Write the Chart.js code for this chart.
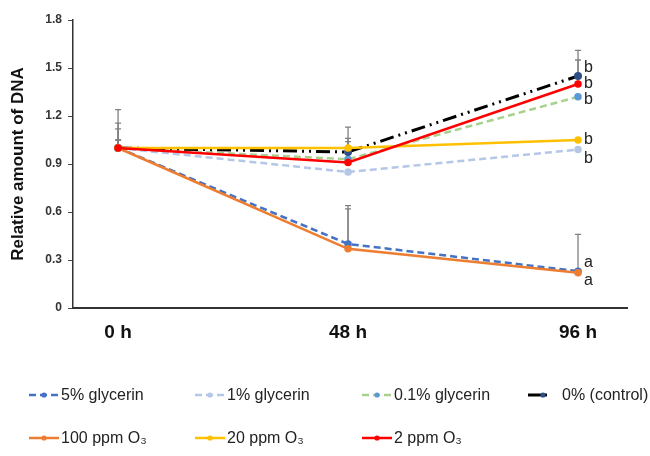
<!DOCTYPE html>
<html lang="en">
<head>
<meta charset="UTF-8">
<title>Relative amount of DNA</title>
<script src="https://cdn.jsdelivr.net/npm/chart.js"></script>
<style>
    body {
        margin: 0;
        background: #ffffff;
    }

    .chart-box {
        width: 650px;
        height: 456px;
    }
</style>
</head>
<body>
<div class="chart-box"><canvas id="dnaChart"></canvas></div>

<script>
    // tick labels / categories
    const timeLabels = ['0 h', '48 h', '96 h'];
    const yTicks = [0, 0.3, 0.6, 0.9, 1.2, 1.5, 1.8];

    // series values (relative amount of DNA)
    const glycerin5 = [1.0, 0.40, 0.23];
    const glycerin1 = [1.0, 0.85, 0.99];
    const glycerin01 = [1.0, 0.93, 1.32];
    const control0 = [1.0, 0.975, 1.45];
    const ozone100 = [1.0, 0.37, 0.22];
    const ozone20 = [1.0, 1.0, 1.05];
    const ozone2 = [1.0, 0.91, 1.40];

    // upper error bars
    const errGlycerin5 = [0.05, 0.24, 0.23];
    const errGlycerin1 = [0, 0, 0];
    const errGlycerin01 = [0.12, 0, 0];
    const errControl0 = [0.24, 0.155, 0.16];
    const errOzone100 = [0, 0.25, 0];
    const errOzone20 = [0.05, 0.06, 0];
    const errOzone2 = [0.155, 0.13, 0.15];

    // significance letters at 96 h
    const sigLetters = ['a', 'b', 'b', 'b', 'a', 'b', 'b'];

    const toPoints = arr => arr.map((v, i) => ({ x: i, y: v }));

    function makeSet(label, values, errors, letter, color, pointColor, dash, width, order) {
        return {
            label: label,
            data: toPoints(values),
            errors: errors,
            letter: letter,
            borderColor: color,
            backgroundColor: pointColor,
            pointBackgroundColor: pointColor,
            pointBorderColor: pointColor,
            pointRadius: 2.5,
            pointHoverRadius: 2.5,
            borderWidth: width,
            borderDash: dash,
            fill: false,
            tension: 0,
            order: order
        };
    }

    const datasets = [
        makeSet('5% glycerin', glycerin5, errGlycerin5, sigLetters[0], '#4472C4', '#4472C4', [7, 4], 2.5, 7),
        makeSet('1% glycerin', glycerin1, errGlycerin1, sigLetters[1], '#B4C7E7', '#B4C7E7', [7, 4], 2.5, 6),
        makeSet('0.1% glycerin', glycerin01, errGlycerin01, sigLetters[2], '#A9D18E', '#5B9BD5', [7, 4], 2.5, 5),
        makeSet('0% (control)', control0, errControl0, sigLetters[3], '#000000', '#2F4E86', [14, 5, 2, 5, 2, 5], 3, 4),
        makeSet('100 ppm O\u2083', ozone100, errOzone100, sigLetters[4], '#ED7D31', '#ED7D31', [], 2.5, 3),
        makeSet('20 ppm O\u2083', ozone20, errOzone20, sigLetters[5], '#FFC000', '#FFC000', [], 2.5, 2),
        makeSet('2 ppm O\u2083', ozone2, errOzone2, sigLetters[6], '#FF0000', '#FF0000', [], 2.5, 1)
    ];

    // error bars drawn under the lines
    const errorBars = {
        id: 'errorBars',
        beforeDatasetsDraw(chart) {
            const ctx = chart.ctx;
            const xs = chart.scales.x, ys = chart.scales.y;
            ctx.save();
            ctx.strokeStyle = '#808080';
            ctx.lineWidth = 1.3;
            chart.data.datasets.forEach(ds => {
                ds.data.forEach((p, i) => {
                    const e = ds.errors[i];
                    if (!e) return;
                    const px = xs.getPixelForValue(p.x);
                    const y0 = ys.getPixelForValue(p.y);
                    const y1 = ys.getPixelForValue(p.y + e);
                    ctx.beginPath();
                    ctx.moveTo(px, y0);
                    ctx.lineTo(px, y1);
                    ctx.moveTo(px - 3, y1);
                    ctx.lineTo(px + 3, y1);
                    ctx.stroke();
                });
            });
            ctx.restore();
        }
    };

    // letters next to the last points
    const letterShift = [-9, 9, 3, -8, 8, 0, 0];
    const sigLabels = {
        id: 'sigLabels',
        afterDatasetsDraw(chart) {
            const ctx = chart.ctx;
            const xs = chart.scales.x, ys = chart.scales.y;
            ctx.save();
            ctx.fillStyle = '#222';
            ctx.font = '16px "Liberation Sans", Arial, sans-serif';
            ctx.textBaseline = 'middle';
            chart.data.datasets.forEach((ds, k) => {
                const last = ds.data[ds.data.length - 1];
                const px = xs.getPixelForValue(last.x) + 6;
                const py = ys.getPixelForValue(last.y) + letterShift[k];
                ctx.fillText(ds.letter, px, py);
            });
            ctx.restore();
        }
    };

    // legend in two rows, fixed columns
    const legendCols = [29, 195, 362, 528];
    const legendRows = [395, 438];
    const customLegend = {
        id: 'customLegend',
        afterDraw(chart) {
            const ctx = chart.ctx;
            ctx.save();
            ctx.font = '16px "Liberation Sans", Arial, sans-serif';
            ctx.textBaseline = 'middle';
            chart.data.datasets.forEach((ds, k) => {
                const col = k < 4 ? k : k - 4;
                const row = k < 4 ? 0 : 1;
                const x = legendCols[col];
                const y = legendRows[row];
                const isControl = ds.label.startsWith('0%');
                const len = isControl ? 19 : 30;
                ctx.strokeStyle = ds.borderColor;
                ctx.lineWidth = ds.borderWidth;
                ctx.setLineDash(isControl ? [] : ds.borderDash.slice(0, 2));
                ctx.beginPath();
                ctx.moveTo(x, y);
                ctx.lineTo(x + len, y);
                ctx.stroke();
                ctx.setLineDash([]);
                ctx.fillStyle = ds.pointBackgroundColor;
                ctx.beginPath();
                ctx.arc(isControl ? x + len - 4 : x + len / 2, y, 2.6, 0, Math.PI * 2);
                ctx.fill();
                ctx.fillStyle = '#222';
                ctx.fillText(ds.label, x + len + (isControl ? 15 : 2), y + 1);
            });
            ctx.restore();
        }
    };

    new Chart(document.getElementById('dnaChart'), {
        type: 'line',
        data: { datasets: datasets },
        plugins: [errorBars, sigLabels, customLegend],
        options: {
            responsive: true,
            maintainAspectRatio: false,
            animation: false,
            layout: {
                padding: { top: 20, right: 23, bottom: 108, left: 0 }
            },
            plugins: {
                legend: { display: false },
                tooltip: { enabled: false }
            },
            scales: {
                x: {
                    type: 'linear',
                    min: -0.196,
                    max: 2.213,
                    afterBuildTicks: scale => {
                        scale.ticks = timeLabels.map((_, i) => ({ value: i }));
                    },
                    afterFit: scale => { scale.height = 40; },
                    grid: { display: false },
                    border: { display: true, color: '#333', width: 2 },
                    ticks: {
                        callback: v => timeLabels[v],
                        color: '#111',
                        padding: 5,
                        maxRotation: 0,
                        font: { family: '"Liberation Sans", Arial, sans-serif', size: 19, weight: 'bold' }
                    }
                },
                y: {
                    min: 0,
                    max: 1.8,
                    afterBuildTicks: scale => {
                        scale.ticks = yTicks.map(v => ({ value: v }));
                    },
                    afterFit: scale => { scale.width = 73; },
                    grid: { drawOnChartArea: false, drawTicks: true, tickLength: 5, color: '#444' },
                    border: { display: true, color: '#333', width: 1.5 },
                    title: {
                        display: true,
                        text: 'Relative amount of DNA',
                        color: '#111',
                        padding: { top: 8, bottom: 4 },
                        font: { family: '"Liberation Sans", Arial, sans-serif', size: 17, weight: 'bold' }
                    },
                    ticks: {
                        callback: v => v === 0 ? '0' : v.toFixed(1),
                        color: '#333',
                        padding: 6,
                        font: { family: '"Liberation Sans", Arial, sans-serif', size: 12, weight: 'bold' }
                    }
                }
            }
        }
    });
</script>
</body>
</html>
